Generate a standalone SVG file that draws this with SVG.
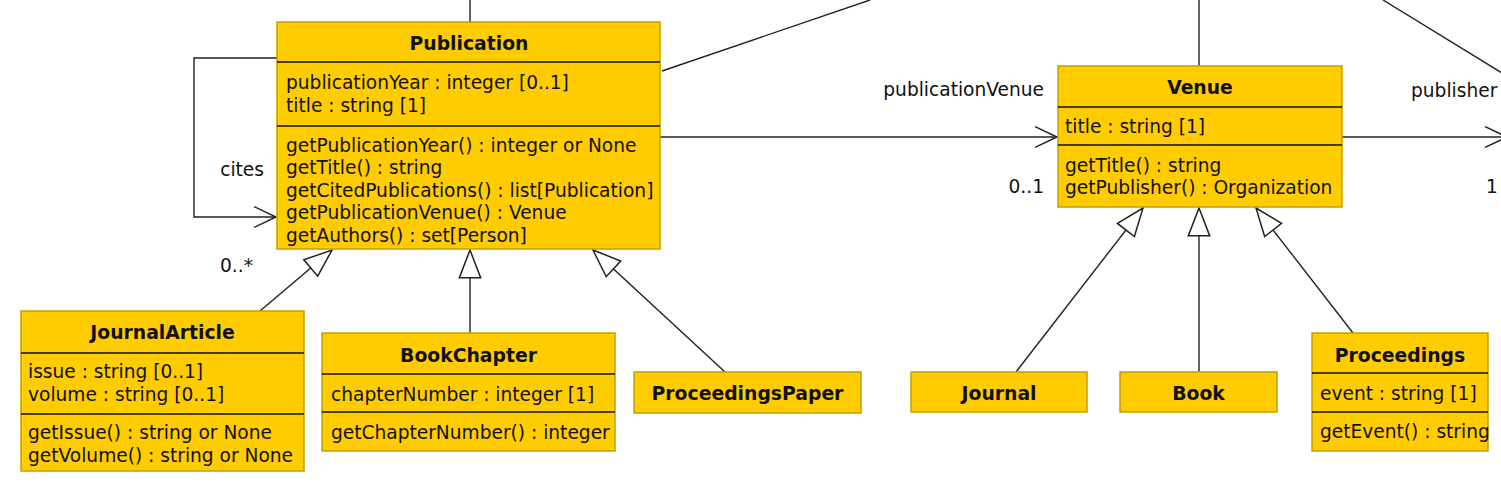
<svg xmlns="http://www.w3.org/2000/svg" width="1501" height="483" viewBox="0 0 1501 483">
<style>
text{font-family:"DejaVu Sans","Liberation Sans",sans-serif;font-size:18.6px;fill:#111}
.t{font-weight:bold;text-anchor:middle;font-size:18.8px}
.box{fill:#FFCC00;stroke:#C4A000;stroke-width:1.5}
.sep{stroke:#111;stroke-width:1.5}
.c{fill:none;stroke:#222;stroke-width:1.4}
.gen{marker-end:url(#tri)}
.nav{marker-end:url(#open)}
.r{text-anchor:end}
</style>
<defs>
<marker id="tri" markerUnits="userSpaceOnUse" markerWidth="30" markerHeight="24" viewBox="-1 -11 28 22" refX="26" refY="0" orient="auto" overflow="visible">
<path d="M0,-10 L26,0 L0,10 Z" fill="#fff" stroke="#222" stroke-width="1.4"/>
</marker>
<marker id="open" markerUnits="userSpaceOnUse" markerWidth="24" markerHeight="24" viewBox="-1 -11 23 22" refX="21" refY="0" orient="auto" overflow="visible">
<path d="M0,-10 L21,0 L0,10" fill="none" stroke="#222" stroke-width="1.4"/>
</marker>
</defs>

<g id="connectors">
<line class="c" x1="470" y1="0" x2="470" y2="22"/>
<line class="c" x1="662" y1="71" x2="870" y2="0"/>
<line class="c" x1="1199" y1="0" x2="1199" y2="66"/>
<line class="c" x1="1383" y1="0" x2="1502" y2="73"/>
<polyline class="c nav" points="277,58 194,58 194,217 276,217"/>
<line class="c nav" x1="660" y1="137" x2="1057" y2="137"/>
<line class="c nav" x1="1342" y1="137" x2="1507" y2="137"/>
<line class="c gen" x1="260" y1="311" x2="332" y2="250"/>
<line class="c gen" x1="470" y1="333" x2="470" y2="250"/>
<line class="c gen" x1="725" y1="372" x2="593" y2="250"/>
<line class="c gen" x1="1016" y1="372" x2="1143" y2="208"/>
<line class="c gen" x1="1199" y1="372" x2="1199" y2="208"/>
<line class="c gen" x1="1353" y1="333" x2="1256" y2="208"/>
<text x="264" y="176" class="r">cites</text>
<text x="220" y="272">0..*</text>
<text x="1044" y="96" class="r">publicationVenue</text>
<text x="1044" y="193" class="r">0..1</text>
<text x="1411" y="97">publisher</text>
<text x="1486" y="193">1</text>
</g>

<g id="Publication">
<rect class="box" x="277" y="22" width="383" height="227"/>
<line class="sep" x1="277" y1="62" x2="660" y2="62"/>
<line class="sep" x1="277" y1="126" x2="660" y2="126"/>
<text class="t" x="469" y="50">Publication</text>
<text x="286" y="89">publicationYear : integer [0..1]</text>
<text x="286" y="112">title : string [1]</text>
<text x="286" y="152">getPublicationYear() : integer or None</text>
<text x="286" y="174">getTitle() : string</text>
<text x="286" y="197">getCitedPublications() : list[Publication]</text>
<text x="286" y="219">getPublicationVenue() : Venue</text>
<text x="286" y="242">getAuthors() : set[Person]</text>
</g>

<g id="JournalArticle">
<rect class="box" x="21" y="311" width="283" height="160"/>
<line class="sep" x1="21" y1="353" x2="304" y2="353"/>
<line class="sep" x1="21" y1="414" x2="304" y2="414"/>
<text class="t" x="162.5" y="339">JournalArticle</text>
<text x="28" y="378">issue : string [0..1]</text>
<text x="28" y="401">volume : string [0..1]</text>
<text x="28" y="439">getIssue() : string or None</text>
<text x="28" y="462">getVolume() : string or None</text>
</g>

<g id="BookChapter">
<rect class="box" x="322" y="333" width="293" height="118"/>
<line class="sep" x1="322" y1="374" x2="615" y2="374"/>
<line class="sep" x1="322" y1="412" x2="615" y2="412"/>
<text class="t" x="468.5" y="362">BookChapter</text>
<text x="331" y="401">chapterNumber : integer [1]</text>
<text x="331" y="439">getChapterNumber() : integer</text>
</g>

<g id="ProceedingsPaper">
<rect class="box" x="634" y="372" width="227" height="41"/>
<text class="t" x="747.5" y="400">ProceedingsPaper</text>
</g>

<g id="Venue">
<rect class="box" x="1058" y="66" width="284" height="141"/>
<line class="sep" x1="1058" y1="107" x2="1342" y2="107"/>
<line class="sep" x1="1058" y1="145" x2="1342" y2="145"/>
<text class="t" x="1200" y="94">Venue</text>
<text x="1065" y="133">title : string [1]</text>
<text x="1065" y="172">getTitle() : string</text>
<text x="1065" y="194">getPublisher() : Organization</text>
</g>

<g id="Journal">
<rect class="box" x="911" y="372" width="176" height="40"/>
<text class="t" x="999" y="400">Journal</text>
</g>

<g id="Book">
<rect class="box" x="1120" y="372" width="157" height="40"/>
<text class="t" x="1198.5" y="400">Book</text>
</g>

<g id="Proceedings">
<rect class="box" x="1312" y="333" width="176" height="118"/>
<line class="sep" x1="1312" y1="373" x2="1488" y2="373"/>
<line class="sep" x1="1312" y1="412" x2="1488" y2="412"/>
<text class="t" x="1400" y="362">Proceedings</text>
<text x="1320" y="400">event : string [1]</text>
<text x="1320" y="438">getEvent() : string</text>
</g>
</svg>
